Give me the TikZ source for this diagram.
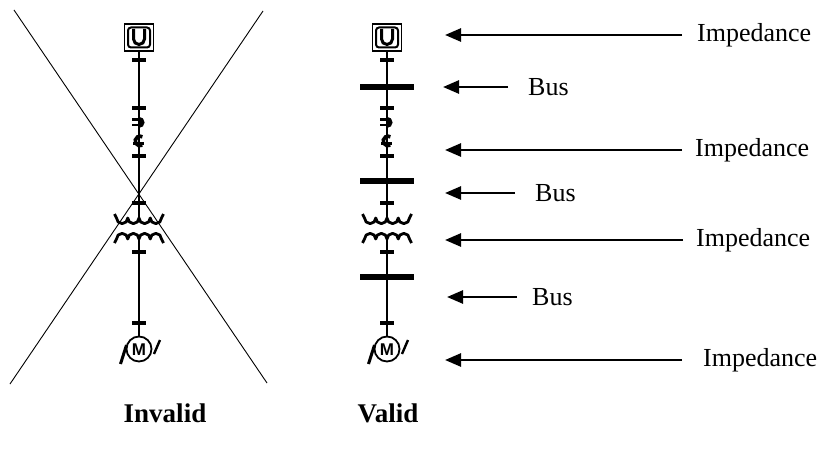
\documentclass[tikz,border=0pt]{standalone}
\usepackage{fontspec}
\setmainfont{Liberation Serif}
\setsansfont{Liberation Sans}
\usetikzlibrary{arrows.meta}
\tikzset{
  lbl/.style={font=\fontsize{26}{30}\selectfont, anchor=west, inner sep=0pt},
  captxt/.style={font=\fontsize{27}{32}\selectfont\bfseries, inner sep=0pt},
  arr/.style={line width=2.6pt, -{Triangle[length=16pt,width=13pt]}},
  wire/.style={line width=2.6pt},
  tickbar/.style={line width=3.5pt},
  busbar/.style={line width=5.5pt},
  crossline/.style={line width=0.9pt},
  coil/.style={line width=2.8pt, line join=round},
  onecol/.pic={
    % source box
    \draw[line width=1.2pt] (-14.5,24) rectangle (14.5,51);
    \draw[line width=2pt, rounded corners=3pt] (-11,27.5) rectangle (11,47.5);
    \draw[line width=3pt] (-5.5,29) -- (-5.5,39) arc(180:0:5.5) -- (5.5,29);
    % wire
    \draw[wire] (0,51) -- (0,218);
    \draw[wire] (0,239) -- (0,337);
    % ticks
    \foreach \ty in {60,108,156,203,252,323}
      \draw[tickbar] (-7,\ty) -- (7,\ty);
    % switch symbol A
    \draw[line width=2.4pt] (-7,119.5) -- (0,119.5) (-7,125) -- (0,125);
    \fill (0,116.8) arc(-90:90:5.6) -- cycle;
    % switch symbol B
    \draw[line width=3.6pt] (1,141) ++(60:4.8) arc(60:300:4.8);
    \draw[line width=2.4pt] (-6,143.5) -- (5,143.5);
    % transformer
    \draw[coil] (-24.5,214) -- (-22.5,218) arc(180:0:5.625) arc(180:0:5.625)
                arc(180:0:5.625) arc(180:0:5.625) -- (24.5,214);
    \draw[coil] (-24.5,243) -- (-22.5,239) arc(180:360:5.625) arc(180:360:5.625)
                arc(180:360:5.625) arc(180:360:5.625) -- (24.5,243);
    % motor
    \draw[line width=1.8pt] (0,349) circle (12.5);
    \node[font=\sffamily\bfseries\fontsize{17}{17}\selectfont, inner sep=0pt] at (0,349.5) {M};
    \draw[line width=3pt] (-18.5,364) -- (-12.5,345);
    \draw[line width=2.4pt] (15,354) -- (21,340);
  }
}
\begin{document}
\begin{tikzpicture}[x=1pt,y=-1pt]
\useasboundingbox (0,0) rectangle (819,452);

% invalid column with cross
\pic at (139,0) {onecol};
\draw[crossline] (14,10) -- (267,383);
\draw[crossline] (263,11) -- (10,384);

% valid column with buses
\pic at (387,0) {onecol};
\draw[busbar] (360,87) -- (414,87);
\draw[busbar] (360,181) -- (414,181);
\draw[busbar] (360,277) -- (414,277);

% labels
\node[lbl] (l1) at (697,35) {Impedance};
\node[lbl] (l2) at (528,87) {Bus};
\node[lbl] (l3) at (695,150) {Impedance};
\node[lbl] (l4) at (535,193) {Bus};
\node[lbl] (l5) at (696,240) {Impedance};
\node[lbl] (l6) at (532,297) {Bus};
\node[lbl] (l7) at (703,360) {Impedance};

\coordinate (t1) at (445,35);
\coordinate (t2) at (443,87);
\coordinate (t3) at (445,150);
\coordinate (t4) at (445,193);
\coordinate (t5) at (445,240);
\coordinate (t6) at (447,297);
\coordinate (t7) at (445,360);

\draw[arr] ([xshift=-15pt]l1.west) -- (t1);
\draw[arr] ([xshift=-20pt]l2.west) -- (t2);
\draw[arr] ([xshift=-13pt]l3.west) -- (t3);
\draw[arr] ([xshift=-20pt]l4.west) -- (t4);
\draw[arr] ([xshift=-13pt]l5.west) -- (t5);
\draw[arr] ([xshift=-15pt]l6.west) -- (t6);
\draw[arr] ([xshift=-21pt]l7.west) -- (t7);

% captions
\node[captxt] (inv) at (165,413) {Invalid};
\node[captxt] (val) at (388,413) {Valid};
\end{tikzpicture}
\end{document}
